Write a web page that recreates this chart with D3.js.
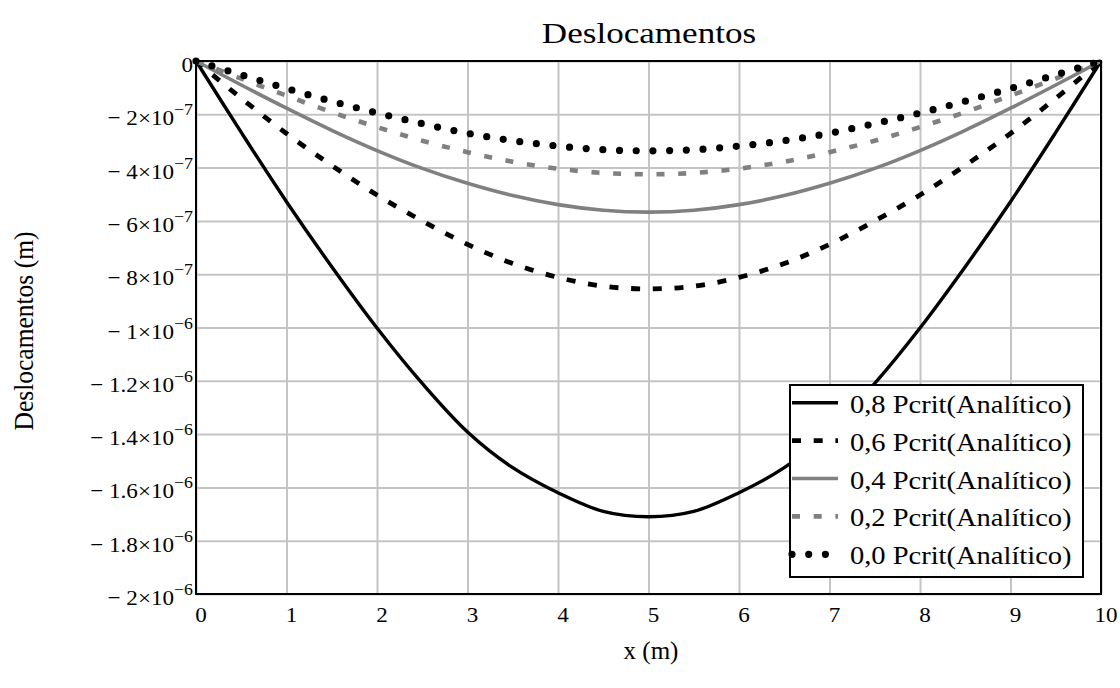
<!DOCTYPE html>
<html>
<head>
<meta charset="utf-8">
<script src="https://cdn.jsdelivr.net/npm/d3@7"></script>
<style>
  html, body { margin: 0; padding: 0; background: #fff; }
  svg { display: block; font-family: "Liberation Serif", "Times New Roman", serif; }
</style>
</head>
<body>
<svg id="chart" width="1120" height="688"></svg>
<script>
// Beam deflection along x for several axial load levels (values in 1e-7 m)
const xPos = [0, 0.5, 1, 1.5, 2, 2.5, 3, 3.5, 4, 4.5, 5, 5.5, 6, 6.5, 7, 7.5, 8, 8.5, 9, 9.5, 10];
const defl08 = [0, -2.68, -5.28, -7.72, -10.02, -12.10, -13.92, -15.26, -16.20, -16.90, -17.10, -16.90, -16.20, -15.26, -13.92, -12.10, -10.02, -7.72, -5.28, -2.68, 0];
const defl06 = [0, -1.40, -2.72, -3.92, -5.03, -6.00, -6.88, -7.60, -8.12, -8.45, -8.55, -8.45, -8.12, -7.60, -6.88, -6.00, -5.03, -3.92, -2.72, -1.40, 0];
const defl04 = [0, -0.90, -1.77, -2.60, -3.36, -4.03, -4.59, -5.05, -5.39, -5.60, -5.67, -5.60, -5.39, -5.05, -4.59, -4.03, -3.36, -2.60, -1.77, -0.90, 0];
const defl02 = [0, -0.66, -1.30, -1.92, -2.48, -2.99, -3.42, -3.78, -4.04, -4.20, -4.25, -4.20, -4.04, -3.78, -3.42, -2.99, -2.48, -1.92, -1.30, -0.66, 0];
const defl00 = [0, -0.52, -1.03, -1.51, -1.95, -2.35, -2.71, -2.99, -3.19, -3.33, -3.37, -3.33, -3.19, -2.99, -2.71, -2.35, -1.95, -1.51, -1.03, -0.52, 0];
const unit = 1e-7;

const seriesNames = ["0,8 Pcrit(Analítico)", "0,6 Pcrit(Analítico)", "0,4 Pcrit(Analítico)", "0,2 Pcrit(Analítico)", "0,0 Pcrit(Analítico)"];

// Tick labels
const xTicks = [0, 1, 2, 3, 4, 5, 6, 7, 8, 9, 10];
const yTicks = [0, -2e-7, -4e-7, -6e-7, -8e-7, -1e-6, -1.2e-6, -1.4e-6, -1.6e-6, -1.8e-6, -2e-6];
const yTickMantissa = ["0", "− 2×10", "− 4×10", "− 6×10", "− 8×10", "− 1×10", "− 1.2×10", "− 1.4×10", "− 1.6×10", "− 1.8×10", "− 2×10"];
const yTickExponent = ["", "−7", "−7", "−7", "−7", "−6", "−6", "−6", "−6", "−6", "−6"];

const titleText = "Deslocamentos";
const xLabel = "x (m)";
const yLabel = "Deslocamentos (m)";

// Line styles per series
const styles = [
  { color: "#000", width: 3.4, dash: null, cap: "butt" },
  { color: "#000", width: 4.8, dash: "9 12.7", cap: "butt" },
  { color: "#808080", width: 3.6, dash: null, cap: "butt" },
  { color: "#808080", width: 4.6, dash: "8 13.7", cap: "butt" },
  { color: "#000", width: 7.2, dash: "0 16.7", cap: "round" }
];

const svg = d3.select("#chart");
const plotL = 196, plotR = 1101, plotT = 61, plotB = 594;
const sx = 1.17; // horizontal stretch of glyphs

const x = d3.scaleLinear().domain([0, 10]).range([plotL, plotR]);
const y = d3.scaleLinear().domain([-2e-6, 0]).range([plotB, plotT]);

// Grid
svg.append("g")
  .attr("transform", `translate(0,${plotB})`)
  .call(d3.axisBottom(x).tickValues(xTicks).tickSize(-(plotB - plotT)).tickFormat(""))
  .call(g => g.select(".domain").remove())
  .call(g => g.selectAll("line").attr("stroke", "#c4c4c4").attr("stroke-width", 2));
svg.append("g")
  .attr("transform", `translate(${plotL},0)`)
  .call(d3.axisLeft(y).tickValues(yTicks).tickSize(-(plotR - plotL)).tickFormat(""))
  .call(g => g.select(".domain").remove())
  .call(g => g.selectAll("line").attr("stroke", "#c4c4c4").attr("stroke-width", 2));

// Curves
const all = [defl08, defl06, defl04, defl02, defl00];
const line = d3.line()
  .x((d, i) => x(xPos[i]))
  .y(d => y(d * unit))
  .curve(d3.curveCatmullRom);

all.forEach((vals, k) => {
  const s = styles[k];
  svg.append("path")
    .attr("d", line(vals))
    .attr("fill", "none")
    .attr("stroke", s.color)
    .attr("stroke-width", s.width)
    .attr("stroke-linecap", s.cap)
    .attr("stroke-linejoin", "round")
    .attr("stroke-dasharray", s.dash);
});

// Frame
svg.append("rect")
  .attr("x", plotL).attr("y", plotT)
  .attr("width", plotR - plotL).attr("height", plotB - plotT)
  .attr("fill", "none").attr("stroke", "#000").attr("stroke-width", 2);

// Y tick labels
yTicks.forEach((v, i) => {
  const t = svg.append("text")
    .attr("transform", `translate(193,${y(v) + 11}) scale(1.05,1)`)
    .attr("text-anchor", "end")
    .attr("font-size", 22)
    .attr("fill", "#000");
  t.append("tspan").text(yTickMantissa[i]);
  if (yTickExponent[i]) {
    t.append("tspan").attr("dy", -10).attr("font-size", 17).text(yTickExponent[i]);
  }
});

// X tick labels
xTicks.forEach(v => {
  svg.append("text")
    .attr("transform", `translate(${x(v) + 5},622) scale(1.1,1)`)
    .attr("text-anchor", "middle")
    .attr("font-size", 21)
    .text(v);
});

// Title and axis titles
svg.append("text")
  .attr("transform", `translate(649,43) scale(${sx},1)`)
  .attr("text-anchor", "middle")
  .attr("font-size", 30)
  .text(titleText);

svg.append("text")
  .attr("transform", `translate(651,659)`)
  .attr("text-anchor", "middle")
  .attr("font-size", 25)
  .text(xLabel);

svg.append("text")
  .attr("transform", `translate(33,331) scale(1.1,1) rotate(-90)`)
  .attr("text-anchor", "middle")
  .attr("font-size", 25.5)
  .text(yLabel);

// Legend
const lg = svg.append("g");
lg.append("rect")
  .attr("x", 790).attr("y", 385)
  .attr("width", 293).attr("height", 192)
  .attr("fill", "#fff").attr("stroke", "#000").attr("stroke-width", 2);

seriesNames.forEach((name, k) => {
  const s = styles[k];
  const cy = 402.7 + k * 37.9;
  lg.append("line")
    .attr("x1", 792).attr("x2", 838)
    .attr("y1", cy).attr("y2", cy)
    .attr("stroke", s.color)
    .attr("stroke-width", s.width)
    .attr("stroke-linecap", s.cap)
    .attr("stroke-dasharray", s.dash);
  lg.append("text")
    .attr("transform", `translate(850,${cy + 10}) scale(1.14,1)`)
    .attr("font-size", 25)
    .text(name);
});
</script>
</body>
</html>
